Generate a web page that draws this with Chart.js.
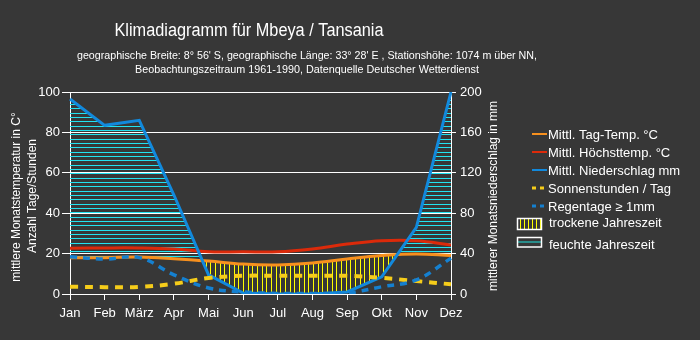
<!DOCTYPE html>
<html><head><meta charset="utf-8">
<script src="https://cdn.jsdelivr.net/npm/chart.js@4/dist/chart.umd.min.js"></script>
<style>html,body{margin:0;padding:0;background:#373737;}canvas{display:block}</style>
</head><body>
<canvas id="c" width="700" height="340"></canvas>
<script>
// ---- data ----
const months = ['Jan','Feb','März','Apr','Mai','Jun','Jul','Aug','Sep','Okt','Nov','Dez'];
const tagTemp = [18.0,18.0,18.3,17.5,16.3,14.8,14.4,15.3,17.3,19.0,19.8,19.0];
const maxTemp = [22.6,22.8,22.8,22.3,20.9,20.9,20.9,22.3,24.7,26.4,26.4,24.3];
const niederschlag = [193,167,172,98,19,1,0,0,2,17,66,200];
const sonnenstunden = [3.6,3.4,3.5,5.1,7.9,9.0,9.0,9.0,9.0,8.0,6.4,4.8];
const regentage = [18.5,17.3,18.0,9.5,3.0,1.0,0.3,0.3,0.5,3.6,7.0,17.7];
const leftRange = [0,100];
const rightRange = [0,200];
const titleText = 'Klimadiagramm für Mbeya / Tansania';
const subtitleLines = ["geographische Breite: 8° 56' S, geographische Länge: 33° 28' E , Stationshöhe: 1074 m über NN,",
                       'Beobachtungszeitraum 1961-1990, Datenquelle Deutscher Wetterdienst'];
const leftAxisTitle = ['mittlere Monatstemperatur in C°','Anzahl Tage/Stunden'];
const rightAxisTitle = 'mittlerer Monatsniederschlag in mm';
const legendLabels = ['Mittl. Tag-Temp. °C','Mittl. Höchsttemp. °C','Mittl. Niederschlag mm','Sonnenstunden / Tag','Regentage ≥ 1mm'];
const seasonLabels = ['trockene Jahreszeit','feuchte Jahreszeit'];

// ---- styles ----
const ORANGE='#f7901e', RED='#dc2a0a', BLUE='#1289dc', YEL='#f5cc1a', BLUE2='#1580d0';
const FONT="'Liberation Sans', Arial, sans-serif";
const cv=document.getElementById('c');
const cx=cv.getContext('2d');
function mkPattern(w,h,draw){const c=document.createElement('canvas');c.width=w;c.height=h;draw(c.getContext('2d'));return cx.createPattern(c,'repeat');}
const humid = mkPattern(4,13,g=>{g.fillStyle='#22e2f0';[0,4,9].forEach(y=>g.fillRect(0,y,4,1));});
const dry = mkPattern(14,4,g=>{g.fillStyle='#ffff00';[0,5,10].forEach(x=>g.fillRect(x,0,1,4));});

function scaledText(ctx,text,cxp,cyp,font,targetW){
  ctx.save();ctx.font=font;const w=ctx.measureText(text).width;const s=targetW/w;
  ctx.translate(cxp,cyp);ctx.scale(s,1);ctx.textAlign='center';ctx.textBaseline='middle';ctx.fillText(text,0,0);ctx.restore();
}

const decor={
  id:'decor',
  beforeDraw(chart){const c=chart.ctx;c.save();c.fillStyle='#373737';c.fillRect(0,0,chart.width,chart.height);c.restore();},
  afterDraw(chart){
    const c=chart.ctx;c.save();c.fillStyle='#ffffff';
    scaledText(c,titleText,249,31,'18px '+FONT,269);
    scaledText(c,subtitleLines[0],307,56,'11px '+FONT,460);
    scaledText(c,subtitleLines[1],307,70,'11px '+FONT,344);
    // axis titles
    c.font='12px '+FONT;c.textAlign='center';c.textBaseline='middle';
    c.save();c.translate(17,197);c.rotate(-Math.PI/2);c.fillText(leftAxisTitle[0],0,0);c.restore();
    c.save();c.translate(33,196);c.rotate(-Math.PI/2);c.fillText(leftAxisTitle[1],0,0);c.restore();
    c.save();c.translate(494,196);c.rotate(-Math.PI/2);c.fillText(rightAxisTitle,0,0);c.restore();
    // legend
    const rows=[[ORANGE,null,2],[RED,null,2],[BLUE,null,2],[YEL,[4,4],3],[BLUE2,[4,4],3]];
    const ys=[134,152,170,188,206];
    c.font='13px '+FONT;c.textAlign='left';
    rows.forEach((r,i)=>{
      c.save();c.strokeStyle=r[0];c.lineWidth=r[2];if(r[1])c.setLineDash(r[1]);
      c.beginPath();c.moveTo(532,ys[i]);c.lineTo(547,ys[i]);c.stroke();c.restore();
      c.fillStyle='#fff';c.fillText(legendLabels[i],548,ys[i]+1);
    });
    // season boxes
    c.save();c.beginPath();c.rect(518,219,23,10);c.clip();
    c.fillStyle='#ffff00';for(let x=520;x<541;x+=4)c.fillRect(x,219,1,10);c.restore();
    c.strokeStyle='#fff';c.lineWidth=1.5;c.strokeRect(517.5,218.5,24,11);
    c.fillStyle='#2a8c8a';c.fillRect(518,241,23,2);
    c.strokeStyle='#fff';c.strokeRect(517.5,237.5,24,9.5);
    c.fillStyle='#fff';c.fillText(seasonLabels[0],549,223);c.fillText(seasonLabels[1],549,245);
    c.restore();
  }
};

const tickFont={family:FONT,size:13};
new Chart(cv,{
  type:'line',
  data:{labels:months,datasets:[
    {label:legendLabels[4],data:regentage,yAxisID:'y',borderColor:BLUE2,borderWidth:3.5,borderDash:[7,6],tension:0.4,pointRadius:0,fill:false},
    {label:legendLabels[3],data:sonnenstunden,yAxisID:'y',borderColor:YEL,borderWidth:4,borderDash:[8,7],tension:0.4,pointRadius:0,fill:false},
    {label:legendLabels[2],data:niederschlag,yAxisID:'y2',borderColor:BLUE,borderWidth:3,tension:0,pointRadius:0,fill:{target:4,above:humid,below:dry}},
    {label:legendLabels[1],data:maxTemp,yAxisID:'y',borderColor:RED,borderWidth:3,tension:0.4,pointRadius:0,fill:false},
    {label:legendLabels[0],data:tagTemp,yAxisID:'y',borderColor:ORANGE,borderWidth:3,tension:0.4,pointRadius:0,fill:false}
  ]},
  options:{
    responsive:false,animation:false,devicePixelRatio:1,
    layout:{padding:{top:92,left:0,right:0,bottom:0}},
    plugins:{legend:{display:false},tooltip:{enabled:false},title:{display:false},filler:{propagate:false,drawTime:'beforeDatasetsDraw'}},
    scales:{
      x:{type:'category',offset:false,
         grid:{drawOnChartArea:false,drawTicks:true,tickLength:6,color:'#fff',lineWidth:1},
         border:{display:true,color:'#fff',width:1},
         ticks:{color:'#fff',font:tickFont,padding:6,maxRotation:0,autoSkip:false},
         afterFit(s){s.height=46;}},
      y:{position:'left',min:leftRange[0],max:leftRange[1],
         ticks:{stepSize:20,color:'#fff',font:tickFont,padding:2},
         grid:{color:'#fff',lineWidth:1,tickLength:8},
         border:{display:true,color:'#fff',width:1},
         afterFit(s){s.width=70;}},
      y2:{position:'right',min:rightRange[0],max:rightRange[1],
         ticks:{stepSize:40,color:'#fff',font:tickFont,padding:4},
         grid:{drawOnChartArea:false,color:'#fff',lineWidth:1,tickLength:5},
         border:{display:true,color:'#fff',width:1},
         afterFit(s){s.width=249;}}
    }
  },
  plugins:[decor]
});
</script>
</body></html>
